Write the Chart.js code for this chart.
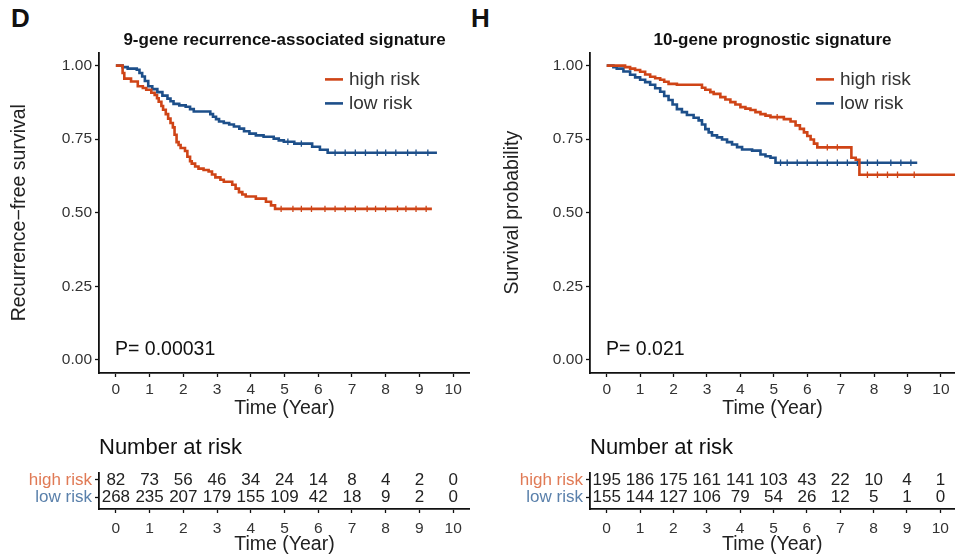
<!DOCTYPE html>
<html>
<head>
<meta charset="utf-8">
<script src="https://cdn.jsdelivr.net/npm/chart.js@4.4.1/dist/chart.umd.min.js"></script>
<style>
  body { margin: 0; background: #fff; width: 955px; height: 556px; position: relative; overflow: hidden;
         font-family: "Liberation Sans", Arial, sans-serif; }
  .box { position: absolute; }
  .tag { position: absolute; font-weight: bold; font-size: 26px; color: #111; }
</style>
</head>
<body>
<div class="tag" style="left:11px;top:3px">D</div>
<div class="tag" style="left:471px;top:3px">H</div>
<div class="box" style="left:0;top:20px;width:470px;height:400px"><canvas id="kmD"></canvas></div>
<div class="box" style="left:470px;top:20px;width:485px;height:400px"><canvas id="kmH"></canvas></div>
<div class="box" style="left:0;top:425px;width:470px;height:131px"><canvas id="riskD"></canvas></div>
<div class="box" style="left:470px;top:425px;width:485px;height:131px"><canvas id="riskH"></canvas></div>

<script>
// ---- data ----
const years = [0, 1, 2, 3, 4, 5, 6, 7, 8, 9, 10];
const survTicks = [0, 0.25, 0.5, 0.75, 1];
const groups = ['high risk', 'low risk'];

// D: 9-gene recurrence-associated signature
const dHighT = [0, 0.2, 0.25, 0.45, 0.65, 0.8, 0.9, 1.05, 1.15, 1.22, 1.27, 1.35, 1.4, 1.48, 1.55, 1.62, 1.69, 1.74, 1.8, 1.86, 1.92, 2.05, 2.12, 2.2, 2.25, 2.35, 2.45, 2.6, 2.75, 2.85, 2.95, 3.1, 3.2, 3.45, 3.55, 3.65, 3.75, 3.85, 4.15, 4.45, 4.6, 4.72, 9.37];
const dHighS = [1.0, 0.975, 0.956, 0.946, 0.93, 0.924, 0.918, 0.908, 0.9, 0.889, 0.877, 0.863, 0.85, 0.835, 0.82, 0.805, 0.79, 0.765, 0.74, 0.73, 0.72, 0.71, 0.69, 0.675, 0.667, 0.657, 0.65, 0.645, 0.64, 0.63, 0.62, 0.612, 0.605, 0.595, 0.582, 0.57, 0.562, 0.555, 0.548, 0.537, 0.525, 0.513, 0.513];
const dHighCensor = [4.9, 5.25, 5.5, 5.8, 6.2, 6.5, 6.8, 7.1, 7.45, 7.7, 8.0, 8.35, 8.6, 8.9, 9.2];
const dLowT = [0, 0.2, 0.35, 0.62, 0.7, 0.78, 0.86, 0.96, 1.08, 1.23, 1.38, 1.53, 1.62, 1.71, 1.88, 2.07, 2.2, 2.31, 2.8, 2.88, 2.97, 3.06, 3.2, 3.36, 3.5, 3.66, 3.8, 3.96, 4.15, 4.38, 4.68, 4.83, 4.98, 5.29, 5.82, 6.05, 6.28, 9.52];
const dLowS = [1.0, 0.995, 0.99, 0.986, 0.975, 0.963, 0.948, 0.93, 0.92, 0.91, 0.898, 0.888, 0.879, 0.87, 0.865, 0.86, 0.852, 0.844, 0.835, 0.826, 0.818, 0.81, 0.805, 0.8, 0.793, 0.786, 0.777, 0.769, 0.763, 0.758, 0.752, 0.746, 0.741, 0.735, 0.724, 0.714, 0.704, 0.704];
const dLowCensor = [5.1, 5.5, 6.5, 6.8, 7.1, 7.4, 7.75, 8.0, 8.3, 8.65, 8.9, 9.25];
const dRiskHigh = [82, 73, 56, 46, 34, 24, 14, 8, 4, 2, 0];
const dRiskLow = [268, 235, 207, 179, 155, 109, 42, 18, 9, 2, 0];

// H: 10-gene prognostic signature
const hHighT = [0, 0.55, 0.7, 0.85, 1.0, 1.15, 1.3, 1.45, 1.6, 1.72, 1.85, 2.1, 2.85, 2.95, 3.1, 3.2, 3.4, 3.55, 3.7, 3.85, 4.0, 4.15, 4.3, 4.45, 4.6, 4.75, 4.9, 5.3, 5.5, 5.65, 5.78, 5.9, 6.0, 6.1, 6.2, 6.3, 7.32, 7.45, 7.56, 10.42];
const hHighS = [1.0, 0.995, 0.99, 0.985, 0.979, 0.97, 0.962, 0.957, 0.952, 0.945, 0.938, 0.935, 0.925, 0.918, 0.91, 0.904, 0.893, 0.885, 0.876, 0.868, 0.859, 0.854, 0.849, 0.842, 0.835, 0.83, 0.825, 0.818, 0.81, 0.797, 0.785, 0.773, 0.761, 0.749, 0.735, 0.722, 0.687, 0.68, 0.629, 0.629];
const hHighCensor = [5.1, 6.6, 6.9, 7.8, 8.1, 8.4, 8.7, 9.2];
const hLowT = [0, 0.2, 0.3, 0.5, 0.7, 0.85, 1.0, 1.15, 1.3, 1.45, 1.6, 1.72, 1.85, 1.97, 2.1, 2.25, 2.4, 2.6, 2.75, 2.85, 2.95, 3.05, 3.15, 3.3, 3.45, 3.6, 3.75, 3.9, 4.05, 4.35, 4.6, 4.75, 4.9, 5.05, 9.29];
const hLowS = [1.0, 0.995, 0.99, 0.98, 0.969, 0.96, 0.952, 0.944, 0.935, 0.923, 0.911, 0.897, 0.883, 0.868, 0.852, 0.842, 0.832, 0.823, 0.814, 0.8, 0.784, 0.773, 0.763, 0.756, 0.749, 0.74, 0.732, 0.723, 0.715, 0.711, 0.698, 0.692, 0.687, 0.67, 0.67];
const hLowCensor = [5.2, 5.4, 5.7, 6.0, 6.3, 6.6, 6.9, 7.2, 7.5, 7.8, 8.1, 8.5, 8.8, 9.1];
const hRiskHigh = [195, 186, 175, 161, 141, 103, 43, 22, 10, 4, 1];
const hRiskLow = [155, 144, 127, 106, 79, 54, 26, 12, 5, 1, 0];

const RED = '#cf4416';
const BLUE = '#1d4f8a';
const FONT = '"Liberation Sans", Arial, sans-serif';
Chart.defaults.font.family = FONT;

function pts(t, s) {
  return t.map((v, i) => ({ x: v, y: s[i] }));
}

// censor marks sit on the curve: look up the step value at each censor time
function censorPts(t, s, times) {
  return times.map(c => {
    let k = 0;
    while (k + 1 < t.length && t[k + 1] <= c) k++;
    return { x: c, y: s[k] };
  });
}

// legend + p-value drawn inside the plot area
const kmNotes = {
  id: 'kmNotes',
  afterDraw(chart, args, o) {
    const { ctx, chartArea: a } = chart;
    ctx.save();
    ctx.textBaseline = 'middle';
    chart.data.datasets.filter(ds => !ds.censor).forEach((ds, i) => {
      const x = a.left + o.legendX;
      const y = a.top + o.legendY + i * 24;
      ctx.strokeStyle = ds.borderColor;
      ctx.lineWidth = 2.6;
      ctx.beginPath();
      ctx.moveTo(x, y);
      ctx.lineTo(x + 18, y);
      ctx.stroke();
      ctx.fillStyle = '#333';
      ctx.font = '19px ' + FONT;
      ctx.fillText(ds.label, x + 24, y);
    });
    ctx.fillStyle = '#111';
    ctx.font = '19.5px ' + FONT;
    ctx.fillText(o.p, a.left + 16, a.bottom - 23);
    ctx.restore();
  }
};

function axisCommon() {
  return {
    grid: { drawOnChartArea: false, color: '#111', tickLength: 4, tickWidth: 1.3 },
    border: { color: '#111', width: 1.8 },
    ticks: { color: '#333', font: { size: 15.5 }, maxRotation: 0, autoSkip: false }
  };
}

function kmChart(id, o) {
  const x = axisCommon(), y = axisCommon();
  y.ticks.callback = v => v.toFixed(2);
  const censorStyle = { showLine: false, pointStyle: 'line', rotation: 90, pointRadius: 3.2, borderWidth: 1.3, censor: true };
  return new Chart(document.getElementById(id), {
    type: 'line',
    data: {
      datasets: [
        { label: groups[0], data: pts(o.highT, o.highS), borderColor: RED },
        { label: groups[1], data: pts(o.lowT, o.lowS), borderColor: BLUE },
        Object.assign({ data: censorPts(o.highT, o.highS, o.highC), borderColor: RED }, censorStyle),
        Object.assign({ data: censorPts(o.lowT, o.lowS, o.lowC), borderColor: BLUE }, censorStyle)
      ]
    },
    options: {
      responsive: true, maintainAspectRatio: false, animation: false,
      parsing: false,
      elements: { line: { stepped: true, borderWidth: 2.6, tension: 0 }, point: { radius: 0 } },
      layout: { padding: { left: o.padLeft, right: 0, top: 0, bottom: 0 }, autoPadding: false },
      plugins: {
        legend: { display: false },
        tooltip: { enabled: false },
        title: { display: true, text: o.title, fullSize: false, color: '#111',
                 font: { size: 17, weight: 'bold' }, padding: { top: 10, bottom: 2 } },
        kmNotes: { p: o.p, legendX: 226, legendY: 27 }
      },
      scales: {
        x: Object.assign(x, {
          type: 'linear', min: -0.5, max: o.xMax,
          afterBuildTicks: s => { s.ticks = years.map(v => ({ value: v })); },
          afterFit: s => { s.height = 47; },
          title: { display: true, text: 'Time (Year)', color: '#222', font: { size: 19.5 }, padding: { top: 0, bottom: 0 } }
        }),
        y: Object.assign(y, {
          type: 'linear', min: -0.045, max: 1.045,
          afterBuildTicks: s => { s.ticks = survTicks.map(v => ({ value: v })); },
          afterFit: s => { s.width = o.yWidth; },
          title: { display: true, text: o.yTitle, color: '#222', font: { size: 19.5 }, padding: { top: 4, bottom: 0 } }
        })
      }
    },
    plugins: [kmNotes]
  });
}

// numbers at risk written at each year tick
const riskText = {
  id: 'riskText',
  afterDatasetsDraw(chart) {
    const { ctx } = chart;
    ctx.save();
    ctx.fillStyle = '#222';
    ctx.font = '17px ' + FONT;
    ctx.textAlign = 'center';
    ctx.textBaseline = 'middle';
    chart.data.datasets.forEach((ds, i) => {
      chart.getDatasetMeta(i).data.forEach((pt, j) => {
        ctx.fillText(String(ds.counts[j]), pt.x, pt.y);
      });
    });
    ctx.restore();
  }
};

function riskChart(id, o) {
  const x = axisCommon(), y = axisCommon();
  x.ticks.padding = 6;
  y.ticks.callback = v => (v === 2 ? groups[0] : groups[1]);
  y.ticks.color = c => (c.tick && c.tick.value === 2 ? '#e07a55' : '#5a80ab');
  y.ticks.font = { size: 17 };
  return new Chart(document.getElementById(id), {
    type: 'scatter',
    data: {
      datasets: [
        { label: groups[0], counts: o.high, data: years.map(t => ({ x: t, y: 2 })) },
        { label: groups[1], counts: o.low, data: years.map(t => ({ x: t, y: 1 })) }
      ]
    },
    options: {
      responsive: true, maintainAspectRatio: false, animation: false,
      elements: { point: { radius: 0, hoverRadius: 0 } },
      layout: { padding: 0, autoPadding: false },
      plugins: {
        legend: { display: false },
        tooltip: { enabled: false },
        title: { display: true, text: 'Number at risk', align: 'start', fullSize: false, color: '#111',
                 font: { size: 22, weight: 'normal' }, padding: { top: 10, bottom: 11.6 } }
      },
      scales: {
        x: Object.assign(x, {
          type: 'linear', min: -0.5, max: o.xMax,
          afterBuildTicks: s => { s.ticks = years.map(v => ({ value: v })); },
          afterFit: s => { s.height = 47; },
          title: { display: true, text: 'Time (Year)', color: '#222', font: { size: 19.5 }, padding: { top: 0, bottom: 0 } }
        }),
        y: Object.assign(y, {
          type: 'linear', min: 0.3, max: 2.4,
          afterBuildTicks: s => { s.ticks = [{ value: 2 }, { value: 1 }]; },
          afterFit: s => { s.width = o.yWidth; }
        })
      }
    },
    plugins: [riskText]
  });
}

kmChart('kmD', { title: '9-gene recurrence-associated signature', yTitle: 'Recurrence\u2212free survival',
  p: 'P= 0.00031', highT: dHighT, highS: dHighS, highC: dHighCensor, lowT: dLowT, lowS: dLowS, lowC: dLowCensor,
  padLeft: 4, yWidth: 95, xMax: 10.5 });
kmChart('kmH', { title: '10-gene prognostic signature', yTitle: 'Survival probability',
  p: 'P= 0.021', highT: hHighT, highS: hHighS, highC: hHighCensor, lowT: hLowT, lowS: hLowS, lowC: hLowCensor,
  padLeft: 27, yWidth: 93, xMax: 10.42 });

riskChart('riskD', { high: dRiskHigh, low: dRiskLow, yWidth: 99, xMax: 10.5 });
riskChart('riskH', { high: hRiskHigh, low: hRiskLow, yWidth: 120, xMax: 10.42 });
</script>
</body>
</html>
